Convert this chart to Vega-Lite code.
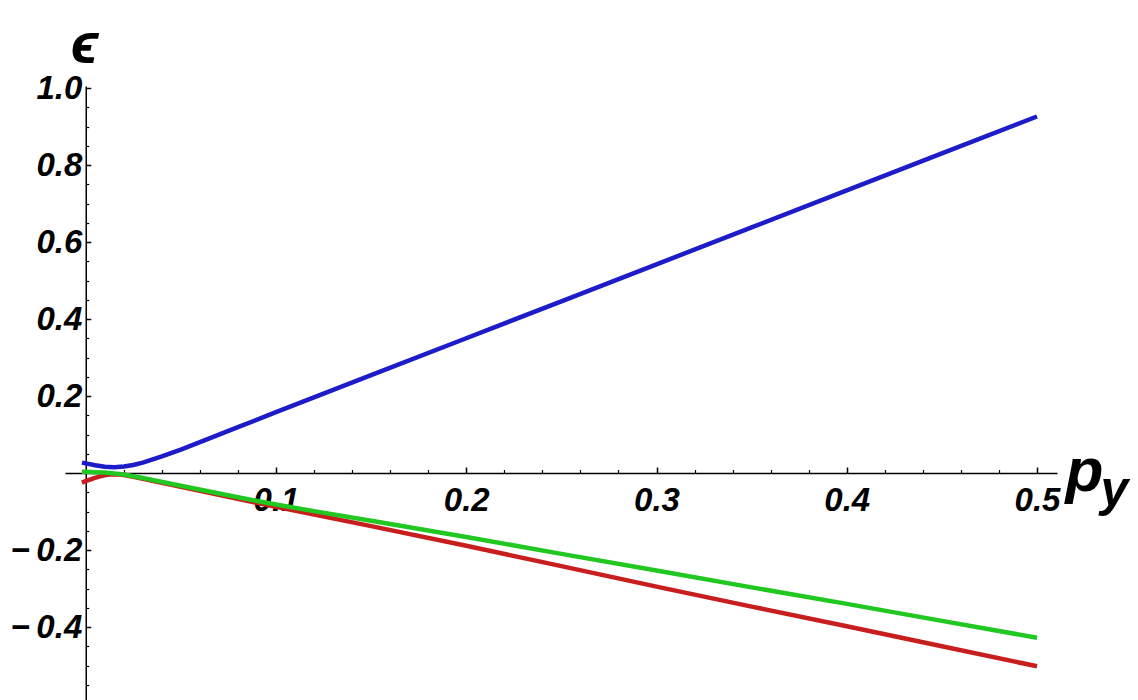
{
  "$schema": "https://vega.github.io/schema/vega-lite/v6.json",
  "autosize": "none",
  "padding": {"left": 65, "top": 86, "right": 81, "bottom": 0},
  "width": 992,
  "height": 614,
  "background": "white",
  "config": {
    "view": {"stroke": null},
    "axis": {
      "grid": false,
      "domainColor": "black",
      "tickColor": "black",
      "labelFont": "Liberation Sans",
      "labelFontWeight": "bold",
      "labelFontStyle": "italic",
      "labelFontSize": 33,
      "labelColor": "black",
      "titleColor": "black",
      "titleFont": "Liberation Sans, DejaVu Sans",
      "titleFontWeight": "bold",
      "titleFontStyle": "italic",
      "labelFlush": false,
      "labelOverlap": false,
      "labelBound": false
    }
  },
  "data": {
    "values": [
      {"s": "blue", "x": -0.002, "y": 0.027},
      {"s": "blue", "x": 0.0, "y": 0.025},
      {"s": "blue", "x": 0.005, "y": 0.02},
      {"s": "blue", "x": 0.01, "y": 0.016},
      {"s": "blue", "x": 0.015, "y": 0.015},
      {"s": "blue", "x": 0.02, "y": 0.017},
      {"s": "blue", "x": 0.025, "y": 0.021},
      {"s": "blue", "x": 0.03, "y": 0.027},
      {"s": "blue", "x": 0.04, "y": 0.043},
      {"s": "blue", "x": 0.05, "y": 0.061},
      {"s": "blue", "x": 0.06, "y": 0.08},
      {"s": "blue", "x": 0.08, "y": 0.119},
      {"s": "blue", "x": 0.1, "y": 0.158},
      {"s": "blue", "x": 0.15, "y": 0.254},
      {"s": "blue", "x": 0.2, "y": 0.35},
      {"s": "blue", "x": 0.25, "y": 0.446},
      {"s": "blue", "x": 0.3, "y": 0.542},
      {"s": "blue", "x": 0.35, "y": 0.638},
      {"s": "blue", "x": 0.4, "y": 0.734},
      {"s": "blue", "x": 0.45, "y": 0.83},
      {"s": "blue", "x": 0.5, "y": 0.926},
      {"s": "red", "x": -0.002, "y": -0.025},
      {"s": "red", "x": 0.0, "y": -0.021},
      {"s": "red", "x": 0.004, "y": -0.014},
      {"s": "red", "x": 0.008, "y": -0.008},
      {"s": "red", "x": 0.012, "y": -0.004},
      {"s": "red", "x": 0.016, "y": -0.003},
      {"s": "red", "x": 0.02, "y": -0.005},
      {"s": "red", "x": 0.025, "y": -0.01},
      {"s": "red", "x": 0.03, "y": -0.015},
      {"s": "red", "x": 0.05, "y": -0.036},
      {"s": "red", "x": 0.1, "y": -0.088},
      {"s": "red", "x": 0.15, "y": -0.138},
      {"s": "red", "x": 0.2, "y": -0.189},
      {"s": "red", "x": 0.25, "y": -0.242},
      {"s": "red", "x": 0.3, "y": -0.295},
      {"s": "red", "x": 0.35, "y": -0.347},
      {"s": "red", "x": 0.4, "y": -0.398},
      {"s": "red", "x": 0.45, "y": -0.45},
      {"s": "red", "x": 0.5, "y": -0.502},
      {"s": "green", "x": -0.002, "y": 0.003},
      {"s": "green", "x": 0.0, "y": 0.003},
      {"s": "green", "x": 0.005, "y": 0.002},
      {"s": "green", "x": 0.01, "y": 0.001},
      {"s": "green", "x": 0.015, "y": -0.001},
      {"s": "green", "x": 0.02, "y": -0.004},
      {"s": "green", "x": 0.03, "y": -0.013},
      {"s": "green", "x": 0.05, "y": -0.033},
      {"s": "green", "x": 0.08, "y": -0.063},
      {"s": "green", "x": 0.1, "y": -0.082},
      {"s": "green", "x": 0.12, "y": -0.099},
      {"s": "green", "x": 0.15, "y": -0.124},
      {"s": "green", "x": 0.2, "y": -0.166},
      {"s": "green", "x": 0.25, "y": -0.21},
      {"s": "green", "x": 0.3, "y": -0.253},
      {"s": "green", "x": 0.35, "y": -0.297},
      {"s": "green", "x": 0.4, "y": -0.34},
      {"s": "green", "x": 0.45, "y": -0.384},
      {"s": "green", "x": 0.5, "y": -0.428}
    ]
  },
  "layer": [
    {
      "mark": {"type": "line", "strokeWidth": 4.5, "strokeCap": "butt"},
      "encoding": {
        "x": {
          "field": "x", "type": "quantitative",
          "scale": {"domain": [-0.0109, 0.5105], "nice": false, "zero": false},
          "axis": {
            "orient": "bottom", "offset": -227,
            "values": [0.1, 0.2, 0.3, 0.4, 0.5], "format": ".1f",
            "tickSize": -6, "tickWidth": 1.5, "domainWidth": 1.5,
            "labelPadding": 17, "labelBaseline": "top",
            "title": "p", "titleFontSize": 62, "titleAngle": 0,
            "titleX": 1000, "titleY": 17, "titleAlign": "left", "titleBaseline": "alphabetic"
          }
        },
        "y": {
          "field": "y", "type": "quantitative",
          "scale": {"domain": [-0.5896, 1.0052], "nice": false, "zero": false},
          "axis": {
            "orient": "left", "offset": -20.75,
            "values": [-0.4, -0.2, 0.2, 0.4, 0.6, 0.8, 1.0],
            "labelExpr": "datum.value < 0 ? '−\u2009' + format(-datum.value, '.1f') : format(datum.value, '.1f')",
            "tickSize": -5, "tickWidth": 1.5, "domainWidth": 1.5,
            "labelPadding": 9,
            "title": "ϵ", "titleFontSize": 58, "titleAngle": 0,
            "titleX": -1.5, "titleY": -24, "titleAlign": "center", "titleBaseline": "alphabetic"
          }
        },
        "color": {
          "field": "s", "type": "nominal",
          "scale": {"domain": ["blue", "green", "red"], "range": ["#1c1cc8", "#22c822", "#c81e1e"]},
          "legend": null
        }
      }
    },
    {
      "mark": {"type": "line", "opacity": 0},
      "encoding": {
        "x": {
          "field": "x", "type": "quantitative",
          "axis": {
            "orient": "bottom", "offset": -227,
            "values": [0.02, 0.04, 0.06, 0.08, 0.12, 0.14, 0.16, 0.18, 0.22, 0.24, 0.26, 0.28, 0.32, 0.34, 0.36, 0.38, 0.42, 0.44, 0.46, 0.48],
            "labels": false, "domain": false,
            "tickSize": -3.5, "tickWidth": 1.2,
            "title": "y", "titleFontSize": 50, "titleAngle": 0,
            "titleX": 1035, "titleY": 32, "titleAlign": "left", "titleBaseline": "alphabetic"
          }
        },
        "y": {
          "field": "y", "type": "quantitative",
          "axis": {
            "orient": "left", "offset": -20.75,
            "values": [-0.55, -0.5, -0.45, -0.35, -0.3, -0.25, -0.15, -0.1, -0.05, 0.05, 0.1, 0.15, 0.25, 0.3, 0.35, 0.45, 0.5, 0.55, 0.65, 0.7, 0.75, 0.85, 0.9, 0.95],
            "labels": false, "domain": false,
            "tickSize": -3, "tickWidth": 1.2,
            "title": null
          }
        },
        "detail": {"field": "s", "type": "nominal"}
      }
    }
  ],
  "resolve": {"axis": {"x": "independent", "y": "independent"}}
}
